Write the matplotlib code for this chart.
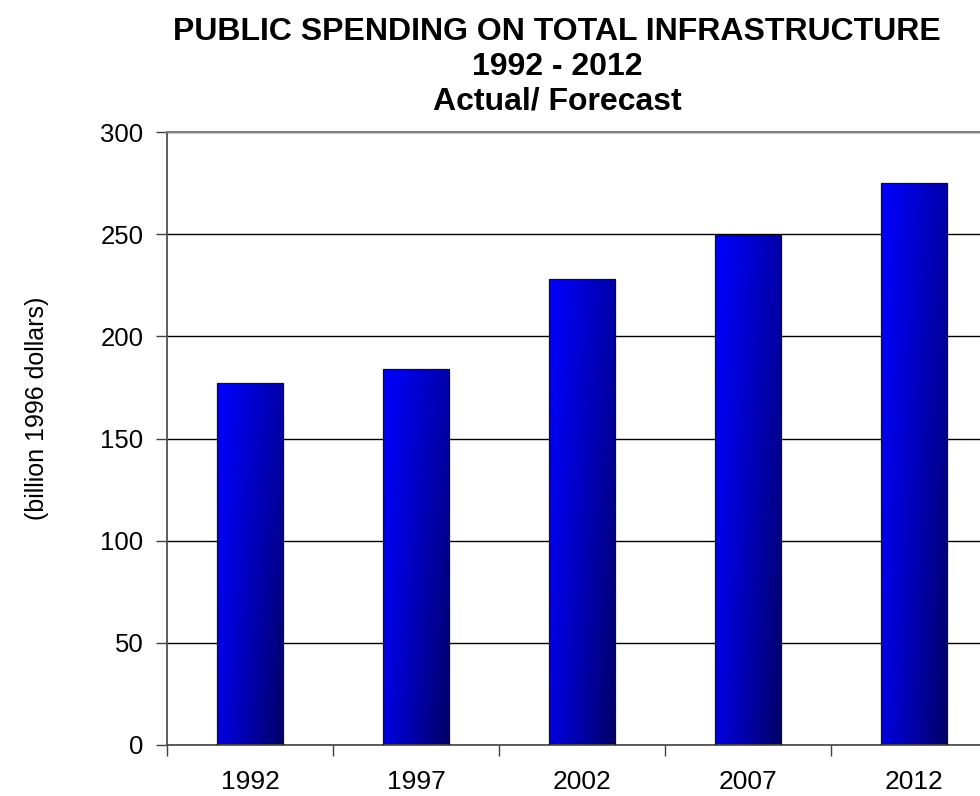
import numpy as np
import matplotlib
matplotlib.use('Agg')
import matplotlib.pyplot as plt

years = ['1992', '1997', '2002', '2007', '2012']
values = [177, 184, 228, 249.5, 275]
yticks = [0, 50, 100, 150, 200, 250, 300]

plt.rcParams['font.family'] = ['Liberation Sans', 'DejaVu Sans']

fig = plt.figure(figsize=(9.8, 7.96), dpi=100)
ax = fig.add_axes([167/980, 51/796, 830/980, 613/796])

x = np.arange(len(years))
bars = ax.bar(x, values, width=0.4, color='none', edgecolor='#101010',
              linewidth=0.9, zorder=3)

# diagonal blue gradient fill
nx, ny = 80, 80
U, V = np.meshgrid(np.linspace(0, 1, nx), np.linspace(0, 1, ny))
b = (255*(1-U)*(1-V) + 170*U*(1-V) + 225*(1-U)*V + 100*U*V) / 255.0
img = np.zeros((ny, nx, 3))
img[..., 2] = b
for bar in bars:
    x0, y0 = bar.get_x(), bar.get_y()
    w, h = bar.get_width(), bar.get_height()
    ax.imshow(img, extent=[x0, x0 + w, y0, y0 + h], origin='upper',
              aspect='auto', zorder=2, interpolation='bilinear')

ax.set_xlim(-0.5, len(years) - 0.5)
ax.set_ylim(0, 300)
ax.set_yticks(yticks)
ax.set_yticklabels([str(t) for t in yticks])
ax.yaxis.grid(True, color='black', linewidth=1.0)
ax.set_axisbelow(True)

ax.set_xticks(x)
ax.set_xticklabels(years)
ax.set_xticks(np.arange(-0.5, len(years), 1.0), minor=True)
ax.tick_params(axis='x', which='major', length=0, pad=18, labelsize=19)
ax.tick_params(axis='x', which='minor', length=8, width=1, color='#404040', direction='out')
ax.tick_params(axis='y', length=8, width=1, color='#404040', pad=9, labelsize=18.5)

for s in ['right']:
    ax.spines[s].set_visible(False)
ax.spines['top'].set_color('#808080')
ax.spines['top'].set_linewidth(1.5)
ax.spines['left'].set_color('#505050')
ax.spines['left'].set_linewidth(1.3)
ax.spines['bottom'].set_color('#505050')
ax.spines['bottom'].set_linewidth(1.3)

fig.text(557/980, 1 - 17/796,
         'PUBLIC SPENDING ON TOTAL INFRASTRUCTURE\n1992 - 2012\nActual/ Forecast',
         ha='center', va='top', fontsize=23, fontweight='bold', linespacing=1.2)
fig.text(37/980, (796 - 408)/796, '(billion 1996 dollars)', rotation=90,
         ha='center', va='center', fontsize=18)

fig.savefig('out.png', dpi=100)
